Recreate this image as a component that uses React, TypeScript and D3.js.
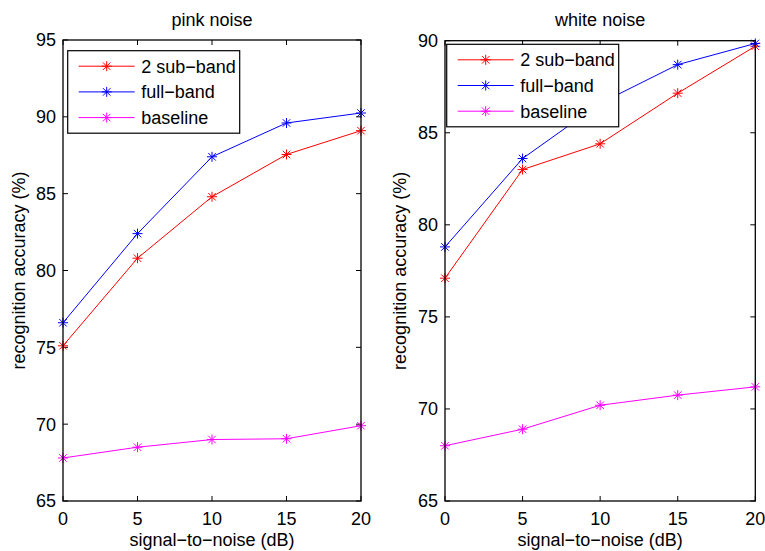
import * as d3 from 'd3'
import { useRef, useEffect } from 'react'

const snr = [0, 5, 10, 15, 20]
const seriesNames = ['2 sub\u2212band', 'full\u2212band', 'baseline']
const seriesColors = ['#ff0000', '#0000ff', '#ff00ff']

const pinkSubBand = [75.1, 80.8, 84.8, 87.55, 89.1]
const pinkFullBand = [76.6, 82.4, 87.4, 89.6, 90.25]
const pinkBaseline = [67.8, 68.5, 69.0, 69.05, 69.9]

const whiteSubBand = [77.1, 83.0, 84.4, 87.15, 89.7]
const whiteFullBand = [78.8, 83.6, 86.6, 88.7, 89.85]
const whiteBaseline = [68.0, 68.9, 70.2, 70.75, 71.2]

const pinkTicks = [65, 70, 75, 80, 85, 90, 95]
const whiteTicks = [65, 70, 75, 80, 85, 90]

const panels = [
    { title: 'pink noise', series: [pinkSubBand, pinkFullBand, pinkBaseline], yDomain: [65, 95], yTicks: pinkTicks,
        left: 63, right: 361, top: 40, bottom: 501, legendX: 67.7, legendY: 50.7, ylabelX: 25 },
    { title: 'white noise', series: [whiteSubBand, whiteFullBand, whiteBaseline], yDomain: [65, 90], yTicks: whiteTicks,
        left: 445, right: 755.3, top: 40.7, bottom: 501, legendX: 446.7, legendY: 44.3, ylabelX: 405.5 },
]

const font = 'Liberation Sans, Arial, Helvetica, sans-serif'

// MATLAB style '*' marker: plus + cross
const star = (g: any, x: number, y: number, color: string) => {
    const r = 5
    const d = r * 0.75
    const p = `M${x - r},${y}L${x + r},${y}M${x},${y - r}L${x},${y + r}M${x - d},${y - d}L${x + d},${y + d}M${x - d},${y + d}L${x + d},${y - d}`
    g.append('path').attr('d', p).attr('stroke', color).attr('stroke-width', 1).attr('fill', 'none')
}

const App = () => {
    const svgRef = useRef<SVGSVGElement | null>(null)

    useEffect(() => {
        const svg = d3.select(svgRef.current)
        svg.selectAll('*').remove()

        panels.forEach((p) => {
            const x = d3.scaleLinear().domain([0, 20]).range([p.left, p.right])
            const y = d3.scaleLinear().domain(p.yDomain).range([p.bottom, p.top])
            const g = svg.append('g')

            // ticks (inward, on all four sides)
            const tl = 5
            snr.forEach((v) => {
                g.append('line').attr('x1', x(v)).attr('x2', x(v)).attr('y1', p.bottom).attr('y2', p.bottom - tl).attr('stroke', '#000')
                g.append('line').attr('x1', x(v)).attr('x2', x(v)).attr('y1', p.top).attr('y2', p.top + tl).attr('stroke', '#000')
                g.append('text').attr('x', x(v)).attr('y', 524.5).attr('text-anchor', 'middle')
                    .style('font-family', font).style('font-size', '18px').text(v)
            })
            p.yTicks.forEach((v) => {
                g.append('line').attr('x1', p.left).attr('x2', p.left + tl).attr('y1', y(v)).attr('y2', y(v)).attr('stroke', '#000')
                g.append('line').attr('x1', p.right).attr('x2', p.right - tl).attr('y1', y(v)).attr('y2', y(v)).attr('stroke', '#000')
                g.append('text').attr('x', p.left - 7).attr('y', y(v)).attr('dy', '0.36em').attr('text-anchor', 'end')
                    .style('font-family', font).style('font-size', '18px').text(v)
            })

            const line = d3.line<number>().x((_, i) => x(snr[i])).y((d) => y(d))
            p.series.forEach((s, k) => {
                g.append('path').attr('d', line(s)).attr('fill', 'none').attr('stroke', seriesColors[k]).attr('stroke-width', 1)
                s.forEach((v, i) => star(g, x(snr[i]), y(v), seriesColors[k]))
            })

            // axes box
            g.append('rect').attr('x', p.left).attr('y', p.top).attr('width', p.right - p.left).attr('height', p.bottom - p.top)
                .attr('fill', 'none').attr('stroke', '#000').attr('stroke-width', 1.3)

            // legend
            const lg = g.append('g').attr('transform', `translate(${p.legendX},${p.legendY})`)
            lg.append('rect').attr('width', 172).attr('height', 82.5).attr('fill', '#fff').attr('stroke', '#000').attr('stroke-width', 1.2)
            seriesNames.forEach((n, k) => {
                const ly = 15.5 + k * 25.7
                lg.append('line').attr('x1', 11).attr('x2', 67).attr('y1', ly).attr('y2', ly).attr('stroke', seriesColors[k])
                star(lg, 39, ly, seriesColors[k])
                lg.append('text').attr('x', 73.5).attr('y', ly).attr('dy', '0.36em')
                    .style('font-family', font).style('font-size', '18px').text(n)
            })

            // labels
            g.append('text').attr('x', (p.left + p.right) / 2).attr('y', 26).attr('text-anchor', 'middle')
                .style('font-family', font).style('font-size', '18px').text(p.title)
            g.append('text').attr('x', (p.left + p.right) / 2).attr('y', 545.5).attr('text-anchor', 'middle')
                .style('font-family', font).style('font-size', '18px').text('signal\u2212to\u2212noise (dB)')
            g.append('text').attr('transform', `translate(${p.ylabelX},${(p.top + p.bottom) / 2}) rotate(-90)`)
                .attr('text-anchor', 'middle')
                .style('font-family', font).style('font-size', '18px').text('recognition accuracy (%)')
        })
    }, [])

    return (
        <svg ref={svgRef} width={765} height={551} style={{ position: 'absolute', left: 0, top: 0, background: '#fff' }} />
    )
}

export default App
